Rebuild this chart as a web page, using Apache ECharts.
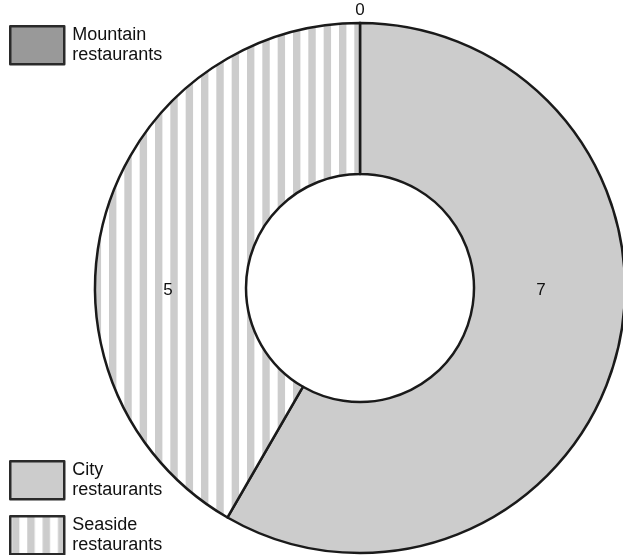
<!DOCTYPE html>
<html>
<head>
<meta charset="utf-8">
<script src="https://cdn.jsdelivr.net/npm/echarts@6/dist/echarts.min.js"></script>
<style>
html,body{margin:0;padding:0;background:#fff;}
#chart{width:623px;height:555px;}
</style>
</head>
<body>
<div id="chart"></div>
<script>
// Data
const categories = ['Mountain\nrestaurants', 'City\nrestaurants', 'Seaside\nrestaurants'];
const values = [0, 7, 5];

// Vertical stripe pattern for "Seaside"
function makeStripes() {
  const c = document.createElement('canvas');
  c.width = 46; c.height = 8;
  const ctx = c.getContext('2d');
  ctx.fillStyle = '#ffffff';
  ctx.fillRect(0, 0, 46, 8);
  ctx.fillStyle = '#cccccc';
  [1.67, 17, 32.33].forEach(function (x) { ctx.fillRect(x, 0, 7.4, 8); });
  return c;
}
const stripes = makeStripes();

const fills = ['#999999', '#cccccc', { image: stripes, repeat: 'repeat' }];

const cx = 360, cy = 288, rIn = 114, rOut = 265;
// label placement (relative to pie centre)
const labelSpots = [[0, -rOut - 13], [181, 2], [-192, 2]];
const legendTops = [25, 460, 515];

const font = 'Liberation Sans, Arial, sans-serif';

const chart = echarts.init(document.getElementById('chart'));
chart.setOption({
  animation: false,
  backgroundColor: '#ffffff',
  legend: categories.map(function (n, i) {
    return {
      data: [n],
      left: 9, top: legendTops[i],
      padding: 0,
      orient: 'vertical',
      icon: 'rect',
      itemWidth: 54, itemHeight: 38,
      selectedMode: false,
      itemStyle: { borderColor: '#2a2a2a', borderWidth: 2.5 },
      textStyle: { fontFamily: font, fontSize: 18, color: '#111', lineHeight: 20, padding: [0, 0, 0, 3] }
    };
  }),
  series: [{
    type: 'pie',
    center: [cx, cy],
    radius: [rIn, rOut],
    startAngle: 90,
    clockwise: true,
    minAngle: 0,
    avoidLabelOverlap: false,
    silent: true,
    itemStyle: { borderColor: '#1a1a1a', borderWidth: 2.5 },
    label: {
      show: true,
      position: 'inside',
      formatter: '{c}',
      fontFamily: font,
      fontSize: 17,
      color: '#111'
    },
    labelLine: { show: false },
    labelLayout: function (p) {
      const s = labelSpots[p.dataIndex];
      return { x: cx + s[0], y: cy + s[1], align: 'center', verticalAlign: 'middle' };
    },
    data: categories.map(function (n, i) {
      return { name: n, value: values[i], itemStyle: { color: fills[i] } };
    })
  }]
});
</script>
</body>
</html>
